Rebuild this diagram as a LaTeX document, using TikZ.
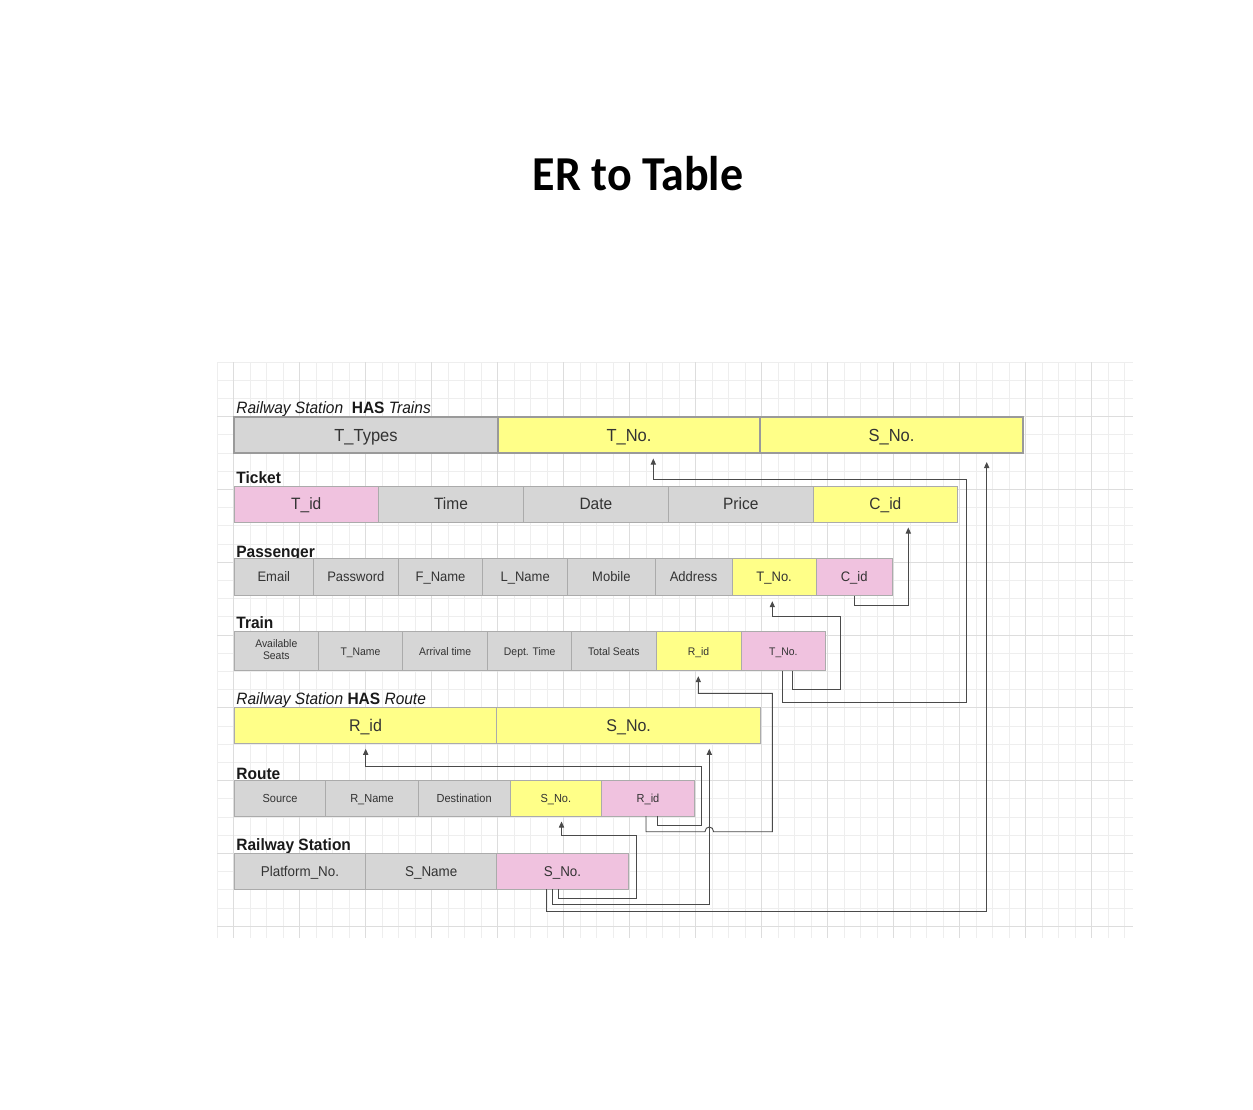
\documentclass[tikz,border=0pt]{standalone}
\usepackage{fontspec}
\setmainfont{Liberation Sans}
\newfontfamily\titlefont{Carlito}
\usetikzlibrary{arrows.meta}
\definecolor{cgray}{HTML}{D6D6D6}
\definecolor{cyel}{HTML}{FFFF88}
\definecolor{cpink}{HTML}{F0C2DF}
\definecolor{cline}{HTML}{ABABAB}
\definecolor{cborder}{HTML}{9A9A9A}
\definecolor{connc}{HTML}{4A4A4A}
\definecolor{gridminor}{HTML}{EEEEEE}
\definecolor{gridmajor}{HTML}{DDDDDD}
\definecolor{ctext}{HTML}{333333}
\newcommand\vs[1]{\scalebox{1}[1.06]{#1}}
\newcommand\mycell[7]{%
  \node[cellbox,#6,minimum width={(#4-#2)*0.5pt},minimum height={(#5-#3)*0.5pt}]
    (#1) at ({(#2+#4)/2},{(#3+#5)/2}) {\vs{\vphantom{A}\raisebox{0pt}[0pt][0pt]{#7}}};}
\begin{document}
\begin{tikzpicture}[x=0.5pt,y=-0.5pt,
  cellbox/.style={draw=cline,line width=0.5pt,text=ctext,inner sep=0pt,outer sep=0pt},
  g/.style={fill=cgray}, yl/.style={fill=cyel}, pk/.style={fill=cpink},
  heavy/.style={draw=cborder,line width=1pt},
  fa/.style={font=\fontsize{8.25}{10}\selectfont},
  fb/.style={font=\fontsize{7.75}{9}\selectfont},
  fc/.style={font=\fontsize{6.5}{8}\selectfont},
  fd/.style={font=\fontsize{5.2}{6}\selectfont},
  fe/.style={font=\fontsize{8}{10}\selectfont},
  ff/.style={font=\fontsize{5.5}{7}\selectfont},
  fg/.style={font=\fontsize{6.7}{8}\selectfont},
  lab/.style={anchor=base west,inner sep=0pt,text=black!90,font=\fontsize{7.75}{9}\selectfont},
  conn/.style={draw=connc,line width=0.45pt,-{Triangle[length=3pt,width=2.6pt]},shorten >=2.75pt},
  gminor/.style={draw=gridminor,line width=0.5pt},
  gmajor/.style={draw=gridmajor,line width=0.5pt}]
\fill[white] (0,0) rectangle (1253,1109);
\useasboundingbox (0,0) rectangle (1253,1109);
% grid
\foreach \k in {0,...,55}{\pgfmathsetmacro\xx{217.2+16.5*\k}\draw[gminor] (\xx,362) -- (\xx,938);}
\foreach \k in {0,...,31}{\pgfmathsetmacro\yy{362+18.2*\k}\draw[gminor] (217,\yy) -- (1133,\yy);}
\foreach \k in {1,5,...,53}{\pgfmathsetmacro\xx{217.2+16.5*\k}\draw[gmajor] (\xx,362) -- (\xx,938);}
\foreach \k in {3,7,...,31}{\pgfmathsetmacro\yy{362+18.2*\k}\draw[gmajor] (217,\yy) -- (1133,\yy);}
% title
\node[font=\titlefont\bfseries\fontsize{23}{28}\selectfont,anchor=base,inner sep=0pt] (title) at (638,190) {\vs{ER to Table}};
% labels
\node[lab] (l1) at (236,413) {\vs{\textit{Railway Station}\ \ \textbf{HAS} \textit{Trains}}};
\node[lab] (l2) at (236,483.3) {\vs{\textbf{Ticket}}};
\node[lab] (l3) at (236,557) {\vs{\textbf{Passenger}}};
\node[lab] (l4) at (236,628.3) {\vs{\textbf{Train}}};
\node[lab] (l5) at (236,704) {\vs{\textit{Railway Station} \textbf{HAS} \textit{Route}}};
\node[lab] (l6) at (236,779.3) {\vs{\textbf{Route}}};
\node[lab] (l7) at (236,850.7) {\vs{\textbf{Railway Station}}};
% Railway Station HAS Trains
\mycell{hTT}{234}{417}{498}{453}{g,heavy,fa}{T\_Types}
\mycell{hT}{498}{417}{760}{453}{yl,heavy,fa}{T\_No.}
\mycell{hS}{760}{417}{1023}{453}{yl,heavy,fa}{S\_No.}
% Ticket
\mycell{tI}{234}{486.5}{378.5}{522}{pk,fb}{T\_id}
\mycell{tTi}{378.5}{486.5}{523.5}{522}{g,fb}{Time}
\mycell{tD}{523.5}{486.5}{668.3}{522}{g,fb}{Date}
\mycell{tP}{668.3}{486.5}{813.3}{522}{g,fb}{Price}
\mycell{tC}{813.3}{486.5}{957.5}{522}{yl,fb}{C\_id}
% Passenger
\mycell{pE}{234.3}{558.5}{313.3}{595.7}{g,fc}{Email}
\mycell{pPw}{313.3}{558.5}{398.3}{595.7}{g,fc}{Password}
\mycell{pF}{398.3}{558.5}{482.7}{595.7}{g,fc}{F\_Name}
\mycell{pL}{482.7}{558.5}{567.7}{595.7}{g,fc}{L\_Name}
\mycell{pM}{567.7}{558.5}{655}{595.7}{g,fc}{Mobile}
\mycell{pA}{655}{558.5}{732.3}{595.7}{g,fc}{Address}
\mycell{pT}{732.3}{558.5}{816}{595.7}{yl,fc}{T\_No.}
\mycell{pC}{816}{558.5}{892.3}{595.7}{pk,fc}{C\_id}
% Train
\node[cellbox,g,fd,minimum width={(318.3-234.3)*0.5pt},minimum height={(670.7-631.7)*0.5pt}]
  (trA) at ({(234.3+318.3)/2},{(631.7+670.7)/2}) {\vs{\begin{tabular}{@{}c@{}}Available\\[-0.4pt]Seats\end{tabular}}};
\mycell{trN}{318.3}{631.7}{402.7}{670.7}{g,fd}{T\_Name}
\mycell{trAr}{402.7}{631.7}{487.7}{670.7}{g,fd}{Arrival time}
\mycell{trD}{487.7}{631.7}{571.7}{670.7}{g,fd}{Dept. Time}
\mycell{trTS}{571.7}{631.7}{656}{670.7}{g,fd}{Total Seats}
\mycell{trR}{656}{631.7}{741}{670.7}{yl,fd}{R\_id}
\mycell{trT}{741}{631.7}{825.7}{670.7}{pk,fd}{T\_No.}
% Railway Station HAS Route
\mycell{hrR}{234.3}{707.3}{496.7}{743.3}{yl,fe}{R\_id}
\mycell{hrS}{496.7}{707.3}{760.7}{743.3}{yl,fe}{S\_No.}
% Route
\mycell{rSo}{234.3}{780}{325.7}{816}{g,ff}{Source}
\mycell{rN}{325.7}{780}{418.3}{816}{g,ff}{R\_Name}
\mycell{rDe}{418.3}{780}{510}{816}{g,ff}{Destination}
\mycell{rS}{510}{780}{601.7}{816}{yl,ff}{S\_No.}
\mycell{rR}{601.7}{780}{694.3}{816}{pk,ff}{R\_id}
% Railway Station
\mycell{rsP}{234.3}{853.3}{365.7}{889.3}{g,fg}{Platform\_No.}
\mycell{rsN}{365.7}{853.3}{496.7}{889.3}{g,fg}{S\_Name}
\mycell{rsS}{496.7}{853.3}{628.3}{889.3}{pk,fg}{S\_No.}
% connectors
\draw[conn] (pC.south -| 854.3,0) |- (908.3,605) -- (tC.south -| 908.3,0);
\draw[conn] (trT.south -| 792.7,0) |- (840,689.3) |- (772.3,616.7) -- (pT.south -| 772.3,0);
\draw[conn] (trT.south -| 782.7,0) |- (966,702.3) |- (653.3,479.3) -- (hT.south -| 653.3,0);
\draw[conn,shorten >=4.5pt] (rsS.south -| 546.7,0) |- (986.7,911.7) -- (hS.south -| 986.7,0);
\draw[conn] (rR.south -| 657.7,0) |- (701,825) |- (365.7,766) -- (hrR.south -| 365.7,0);
\draw[conn] (rR.south -| 646,0) -- (646,831.7) -- (705,831.7)
  .. controls (705,825.5) and (713.6,825.5) .. (713.6,831.7) -- (772.3,831.7)
  |- (698.3,693.3) -- (trR.south -| 698.3,0);
\draw[conn] (rsS.south -| 558.5,0) |- (636.7,898.3) |- (561.5,835) -- (rS.south -| 561.5,0);
\draw[conn] (rsS.south -| 552.7,0) |- (709.3,904.3) -- (hrS.south -| 709.3,0);
\end{tikzpicture}
\end{document}
